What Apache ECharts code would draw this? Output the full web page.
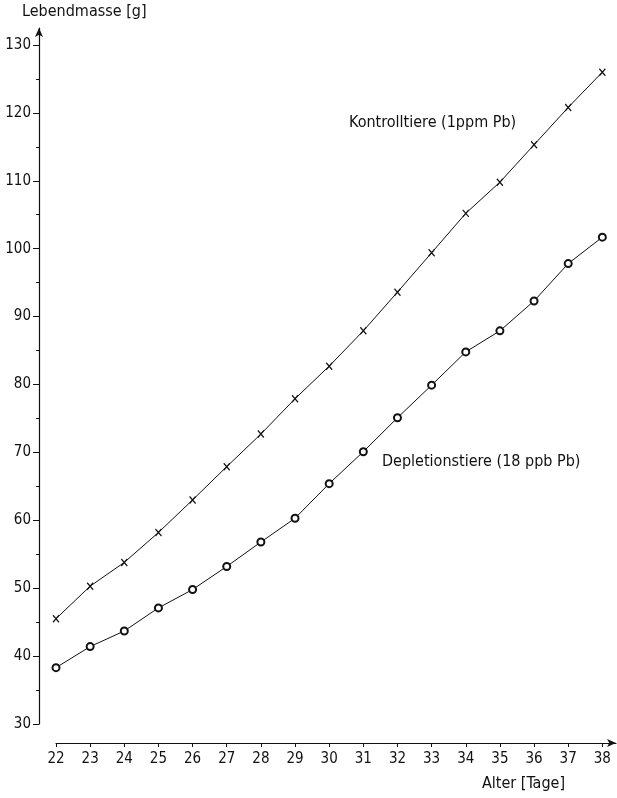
<!DOCTYPE html>
<html>
<head>
<meta charset="utf-8">
<script src="https://cdn.jsdelivr.net/npm/echarts@6/dist/echarts.min.js"></script>
<style>
html,body{margin:0;padding:0;background:#fff;}
#c{width:617px;height:798px;}
</style>
</head>
<body>
<div id="c"></div>
<script>
// Data
var days = [22,23,24,25,26,27,28,29,30,31,32,33,34,35,36,37,38];
var kontrolltiere = [45.5,50.3,53.8,58.2,63.0,67.9,72.7,77.9,82.7,87.9,93.6,99.4,105.2,109.8,115.3,120.8,126.0];
var depletionstiere = [38.3,41.4,43.7,47.1,49.8,53.2,56.8,60.3,65.4,70.1,75.1,79.9,84.8,87.9,92.3,97.8,101.7];
var yMajorTicks = [30,40,50,60,70,80,90,100,110,120,130];
var yMinorTicks = [35,45,55,65,75,85,95,105,115,125];
var xTicks = days;

var FONT = "'Liberation Sans Narrow','DejaVu Sans Condensed','Liberation Sans',sans-serif";
var chart = echarts.init(document.getElementById('c'), null, {renderer:'canvas'});

function pairs(ys){ return days.map(function(d,i){ return [d, ys[i]]; }); }

var option = {
  animation:false,
  backgroundColor:'#fff',
  grid:{left:56, right:1, top:28, bottom:74, containLabel:false},
  xAxis:{
    type:'value', min:22, max:38.4, offset:19,
    splitLine:{show:false},
    axisLine:{show:true, lineStyle:{color:'#111', width:1.2}, symbol:['none','arrow'], symbolSize:[6,9]},
    axisTick:{show:true, length:4, lineStyle:{color:'#111'}, customValues:xTicks},
    axisLabel:{customValues:xTicks, color:'#111', fontFamily:FONT, fontSize:15, margin:9}
  },
  yAxis:[{
    type:'value', min:30, max:132.5, offset:17,
    splitLine:{show:false},
    axisLine:{show:true, lineStyle:{color:'#111', width:1.2}, symbol:['none','arrow'], symbolSize:[6,9]},
    axisTick:{show:true, length:6, lineStyle:{color:'#111'}, customValues:yMajorTicks},
    axisLabel:{customValues:yMajorTicks, color:'#111', fontFamily:FONT, fontSize:15, margin:8}
  },{
    type:'value', min:30, max:132.5, offset:17, position:'left',
    splitLine:{show:false},
    axisLine:{show:false},
    axisTick:{show:true, length:3, lineStyle:{color:'#111'}, customValues:yMinorTicks},
    axisLabel:{show:false}
  }],
  series:[{
    name:'Kontrolltiere (1ppm Pb)', type:'line', data:pairs(kontrolltiere),
    symbol:'path://M0,0L10,10M10,0L0,10', symbolSize:[6,7],
    lineStyle:{color:'#111', width:1},
    itemStyle:{color:'#111', borderColor:'#111', borderWidth:1.3},
    z:3
  },{
    name:'Depletionstiere (18 ppb Pb)', type:'line', data:pairs(depletionstiere),
    symbol:'emptyCircle', symbolSize:7,
    lineStyle:{color:'#111', width:1},
    itemStyle:{color:'#111', borderColor:'#111', borderWidth:1},
    z:3
  }],
  graphic:[
    {type:'text', left:22, top:4, style:{text:'Lebendmasse [g]', font:'16px '+FONT, fill:'#111'}},
    {type:'text', left:482, top:776, style:{text:'Alter [Tage]', font:'16px '+FONT, fill:'#111'}},
    {type:'text', left:349, top:115, style:{text:'Kontrolltiere (1ppm Pb)', font:'16px '+FONT, fill:'#111'}},
    {type:'text', left:382, top:454, style:{text:'Depletionstiere (18 ppb Pb)', font:'16px '+FONT, fill:'#111'}}
  ]
};
chart.setOption(option);
</script>
</body>
</html>
